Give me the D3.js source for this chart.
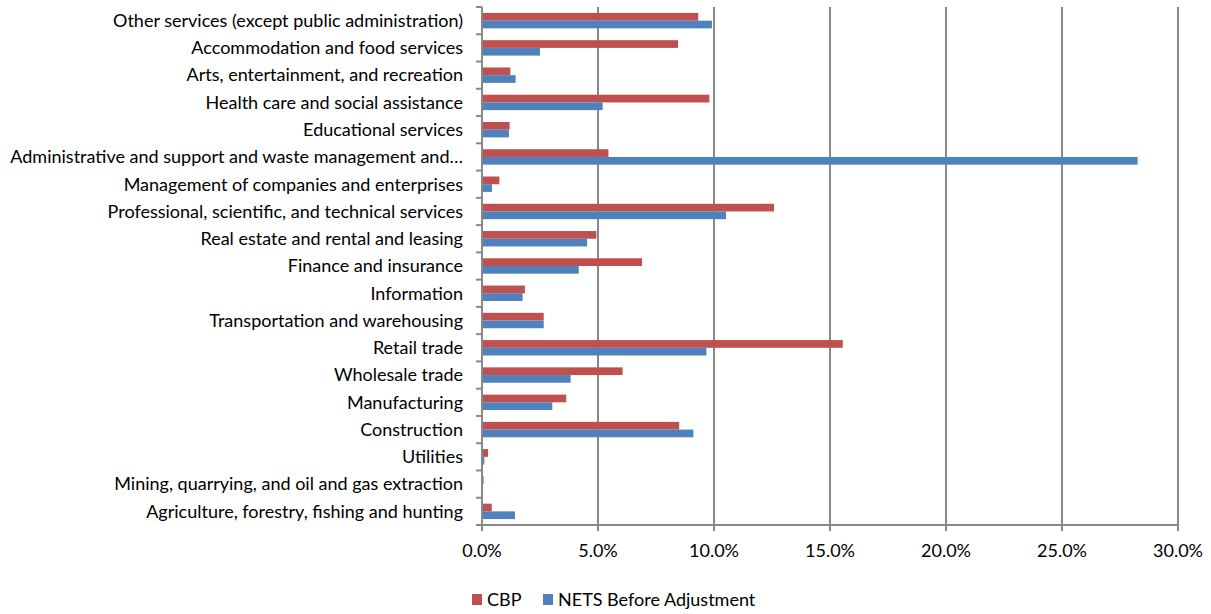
<!DOCTYPE html>
<html>
<head>
<meta charset="utf-8">
<script src="https://cdn.jsdelivr.net/npm/d3@7"></script>
<style>
  html, body { margin: 0; padding: 0; background: #fff; }
  svg { display: block; font-family: Lato, "Open Sans", sans-serif; }
</style>
</head>
<body>
<svg id="chart" width="1211" height="614"></svg>
<script>
// Industry categories, listed top to bottom as drawn
const categories = [
  "Other services (except public administration)",
  "Accommodation and food services",
  "Arts, entertainment, and recreation",
  "Health care and social assistance",
  "Educational services",
  "Administrative and support and waste management and\u2026",
  "Management of companies and enterprises",
  "Professional, scientific, and technical services",
  "Real estate and rental and leasing",
  "Finance and insurance",
  "Information",
  "Transportation and warehousing",
  "Retail trade",
  "Wholesale trade",
  "Manufacturing",
  "Construction",
  "Utilities",
  "Mining, quarrying, and oil and gas extraction",
  "Agriculture, forestry, fishing and hunting"
];

// Share of establishments (%) per source
const seriesNames = ["CBP", "NETS Before Adjustment"];
const cbp  = [9.32, 8.45, 1.22, 9.80, 1.19, 5.45, 0.75, 12.59, 4.93, 6.90, 1.85, 2.66, 15.55, 6.06, 3.63, 8.50, 0.26, 0.07, 0.42];
const nets = [9.91, 2.50, 1.45, 5.20, 1.16, 28.26, 0.43, 10.52, 4.53, 4.17, 1.75, 2.66, 9.67, 3.82, 3.03, 9.11, 0.10, 0.04, 1.42];
const seriesColors = ["#C0504D", "#4F81BD"];
const xTicks = [0, 5, 10, 15, 20, 25, 30];

const svg = d3.select("#chart");
const plot = { left: 482, right: 1178, top: 7, bottom: 525 };
const gridColor = "#888888";
const fontSize = 18;

const x = d3.scaleLinear().domain([0, 30]).range([plot.left, plot.right]);
const y = d3.scaleBand().domain(categories).range([plot.top, plot.bottom]).padding(0);
const ySub = d3.scaleBand().domain(seriesNames).range([0, y.bandwidth()])
  .paddingInner(0).paddingOuter(0.77);

// vertical gridlines
svg.append("g").selectAll("line")
  .data(xTicks.filter(t => t > 0))
  .join("line")
  .attr("x1", d => x(d)).attr("x2", d => x(d))
  .attr("y1", plot.top).attr("y2", plot.bottom)
  .attr("stroke", gridColor).attr("stroke-width", 2);

// bars
const rows = categories.map((c, i) => ({ c, vals: [cbp[i], nets[i]] }));
const groups = svg.append("g").selectAll("g")
  .data(rows).join("g")
  .attr("transform", d => `translate(0,${y(d.c)})`);
groups.selectAll("rect")
  .data(d => d.vals.map((v, j) => ({ v, s: seriesNames[j], j })))
  .join("rect")
  .attr("x", x(0))
  .attr("y", d => ySub(d.s))
  .attr("width", d => x(d.v) - x(0))
  .attr("height", ySub.bandwidth())
  .attr("fill", d => seriesColors[d.j]);

// category axis (left)
const yAxis = svg.append("g").attr("transform", `translate(${plot.left},0)`);
yAxis.append("line")
  .attr("x1", 0).attr("x2", 0).attr("y1", plot.top).attr("y2", plot.bottom)
  .attr("stroke", gridColor).attr("stroke-width", 2);
const boundaries = categories.map(c => y(c)).concat([plot.bottom]);
yAxis.selectAll("line.tick").data(boundaries).join("line")
  .attr("class", "tick")
  .attr("x1", -6).attr("x2", 0).attr("y1", d => d).attr("y2", d => d)
  .attr("stroke", gridColor).attr("stroke-width", 2);
yAxis.selectAll("text").data(categories).join("text")
  .attr("x", -19)
  .attr("y", d => y(d) + y.bandwidth() / 2)
  .attr("dy", "0.35em")
  .attr("text-anchor", "end")
  .attr("font-size", fontSize)
  .attr("fill", "#000")
  .text(d => d);

// value axis (bottom)
const xAxis = svg.append("g").attr("transform", `translate(0,${plot.bottom})`);
xAxis.append("line")
  .attr("x1", plot.left - 1).attr("x2", plot.right + 1).attr("y1", 0).attr("y2", 0)
  .attr("stroke", gridColor).attr("stroke-width", 2);
xAxis.selectAll("line.tick").data(xTicks).join("line")
  .attr("class", "tick")
  .attr("x1", d => x(d)).attr("x2", d => x(d)).attr("y1", 0).attr("y2", 6)
  .attr("stroke", gridColor).attr("stroke-width", 2);
xAxis.selectAll("text").data(xTicks).join("text")
  .attr("x", d => x(d))
  .attr("y", 32)
  .attr("text-anchor", "middle")
  .attr("font-size", fontSize)
  .attr("fill", "#000")
  .text(d => d.toFixed(1) + "%");

// legend
const legendX = [472, 543];
const legend = svg.append("g").selectAll("g")
  .data(seriesNames).join("g")
  .attr("transform", (d, i) => `translate(${legendX[i]},594)`);
legend.append("rect")
  .attr("width", 10).attr("height", 11)
  .attr("fill", (d, i) => seriesColors[i]);
legend.append("text")
  .attr("x", 15).attr("y", 12)
  .attr("font-size", fontSize).attr("fill", "#000")
  .text(d => d);
</script>
</body>
</html>
